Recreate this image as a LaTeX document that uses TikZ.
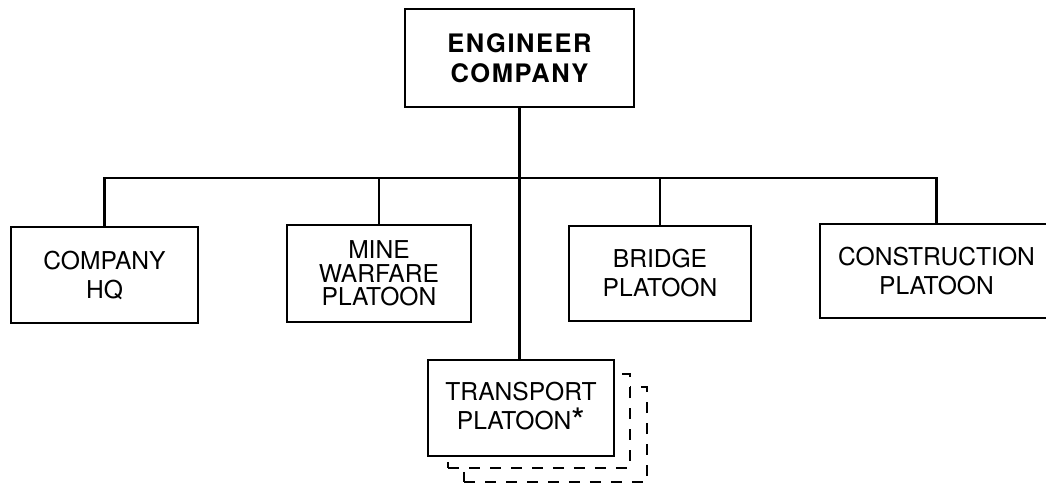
\documentclass[tikz,border=0pt]{standalone}
\usepackage{fontspec}
\setmainfont{TeX Gyre Heros}

\begin{document}
\begin{tikzpicture}[x=0.02cm,y=-0.02cm,
  unit/.style={draw,line width=1.6pt,fill=white,align=center,inner sep=2pt,
    font=\fontsize{14}{16.5}\selectfont},
  ghost/.style={draw,dash pattern=on 0.22cm off 0.2cm,line width=0.8pt,fill=white},
  link/.style={line width=1.3pt}]

  \useasboundingbox (0,0) rectangle (1046,483);

  % Compagnie
  \node[unit,minimum width=4.58cm,minimum height=1.96cm,
    font=\fontsize{14.5}{17}\selectfont\bfseries\addfontfeatures{LetterSpace=6}]
    (eng) at (519.5,58) {ENGINEER\\COMPANY};

  % Sections
  \node[unit,minimum width=3.74cm,minimum height=1.92cm] (hq) at (104.5,275) {COMPANY\\HQ};
  \node[unit,minimum width=3.68cm,minimum height=1.94cm,font=\fontsize{14}{13.5}\selectfont]
    (mine) at (379,273.5) {MINE\\WARFARE\\PLATOON};
  \node[unit,minimum width=3.64cm,minimum height=1.90cm] (bridge) at (660,273.5) {BRIDGE\\PLATOON};
  \node[unit,minimum width=4.66cm,minimum height=1.88cm] (constr) at (936.5,271) {CONSTRUCTION\\PLATOON};

  % Transport, avec cadres en pointilles derriere
  \node[ghost,minimum width=3.66cm,minimum height=1.90cm] (ghostc) at (555.5,434.5) {};
  \node[ghost,minimum width=3.64cm,minimum height=1.88cm] (ghostb) at (539,421) {};
  \node[unit,minimum width=3.72cm,minimum height=1.92cm] (trans) at (521,408)
    {TRANSPORT\\PLATOON\raisebox{-0.35ex}{\fontsize{20}{20}\selectfont *}};

  % Liaisons
  \coordinate (bar) at (0,178);
  \draw[link] (eng.south) -- (eng.south |- trans.north);
  \draw[link] (hq.north) -- (hq.north |- bar) -- (constr.north |- bar) -- (constr.north);
  \foreach \n in {mine,bridge}
    \draw[link] (\n.north) -- (\n.north |- bar);
\end{tikzpicture}
\end{document}
